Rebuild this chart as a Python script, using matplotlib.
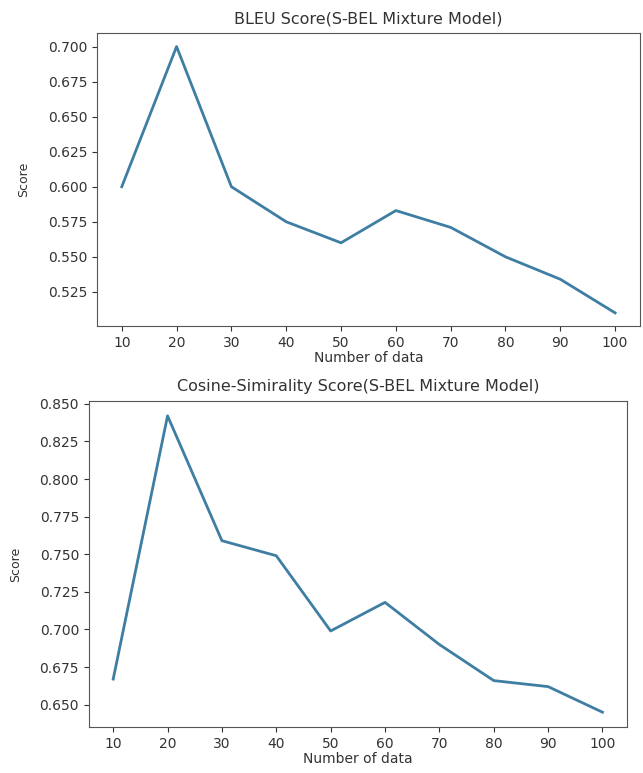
import matplotlib
matplotlib.use("Agg")
import matplotlib.pyplot as plt

num_data = [10, 20, 30, 40, 50, 60, 70, 80, 90, 100]
bleu_scores = [0.600, 0.700, 0.600, 0.575, 0.560, 0.583, 0.571, 0.550, 0.534, 0.510]
cosine_scores = [0.667, 0.842, 0.759, 0.749, 0.699, 0.718, 0.690, 0.666, 0.662, 0.645]

LINE_COLOR = "#3f7ea3"
TEXT_COLOR = "#333333"


def style_axes(ax, title):
    ax.set_title(title, fontsize=11.5, color=TEXT_COLOR, pad=7)
    ax.set_xlabel("Number of data", fontsize=10, color=TEXT_COLOR, labelpad=1)
    ax.set_ylabel("Score", fontsize=9, color=TEXT_COLOR)
    ax.yaxis.set_label_coords(-0.124, 0.5)
    ax.set_xticks(num_data)
    ax.tick_params(labelsize=10, colors=TEXT_COLOR)
    for spine in ax.spines.values():
        spine.set_color("#555555")


def main():
    fig = plt.figure(figsize=(6.43, 7.73), dpi=100)

    ax1 = fig.add_axes([0.151, 0.578, 0.844, 0.379])
    ax1.plot(num_data, bleu_scores, color=LINE_COLOR, linewidth=2)
    style_axes(ax1, "BLEU Score(S-BEL Mixture Model)")

    ax2 = fig.add_axes([0.138, 0.0595, 0.837, 0.4217])
    ax2.plot(num_data, cosine_scores, color=LINE_COLOR, linewidth=2)
    style_axes(ax2, "Cosine-Simirality Score(S-BEL Mixture Model)")

    fig.savefig("out.png", dpi=100)


if __name__ == "__main__":
    main()
